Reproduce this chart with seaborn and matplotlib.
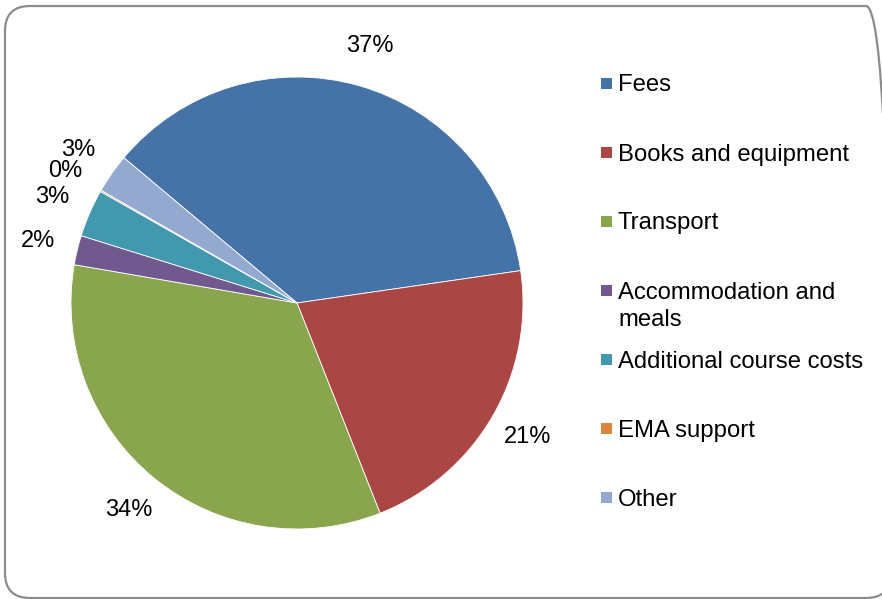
import matplotlib
matplotlib.use("Agg")
import matplotlib.pyplot as plt
import seaborn as sns
from matplotlib.patches import FancyBboxPatch, Rectangle

# Data (percent of spending)
categories = ["Fees", "Books and equipment", "Transport", "Accommodation and\nmeals",
              "Additional course costs", "EMA support", "Other"]
shares = [36.6, 21.3, 33.7, 2.1, 3.4, 0.1, 2.8]
colors = ["#4572A7", "#AA4643", "#89A54E", "#71588F", "#4198AF", "#DB843D", "#93A9CF"]

sns.set_theme(style="white")
plt.rcParams['font.family'] = ['Liberation Sans', 'DejaVu Sans']

W, H, DPI = 882, 599, 100
fig = plt.figure(figsize=(W / DPI, H / DPI), dpi=DPI)

# pie occupies a square of 452 px centred at (297, 303) from the top-left
cx, cy, r = 297, 303, 226
ax = fig.add_axes([(cx - r) / W, (H - cy - r) / H, 2 * r / W, 2 * r / H])
wedges, texts, autotexts = ax.pie(
    shares, colors=colors, startangle=140, counterclock=False,
    autopct='%1.0f%%', pctdistance=1.18,
    wedgeprops=dict(edgecolor='white', linewidth=0.6),
    textprops=dict(fontsize=17, color='black'))
ax.set_xlim(-1, 1)
ax.set_ylim(-1, 1)
ax.set_aspect('equal')

# legend drawn as evenly spaced entries like the Excel original
x_box, y0, step, box, line_h = 601, 83, 69, 11, 28
for i, (lab, col) in enumerate(zip(categories, colors)):
    yc = y0 + i * step
    fig.add_artist(Rectangle((x_box, H - yc - box / 2), box, box, transform=None,
                             facecolor=col, edgecolor='none'))
    # baseline of the last line; extra lines hang below the marker
    y_base = yc + 8.5 + lab.count('\n') * line_h
    fig.text((x_box + 17) / W, (H - y_base) / H, lab, fontsize=17.2, color='black',
             ha='left', va='baseline', linespacing=1.3)

# rounded chart-area border (runs off the right edge, as in the original)
fig.add_artist(FancyBboxPatch((5, 1), 886, 592, boxstyle="round,pad=0,rounding_size=25",
                              transform=None, fill=False, edgecolor='#8c8c8c', linewidth=1.6))

fig.savefig("out.png", dpi=DPI)
plt.close(fig)
